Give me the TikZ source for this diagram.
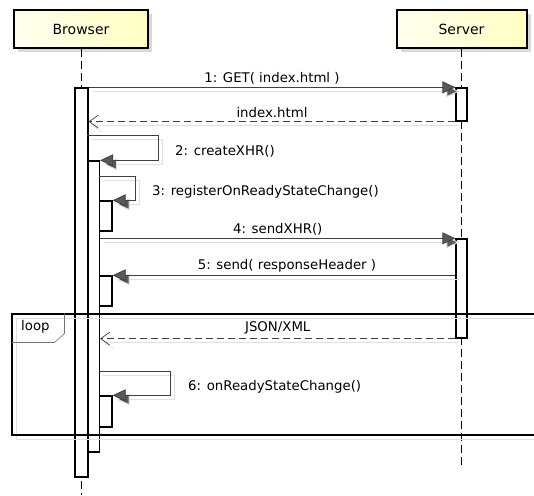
\documentclass[tikz,border=0pt]{standalone}
\usepackage{fontspec}
\setmainfont{DejaVu Sans}
\usetikzlibrary{arrows.meta,calc}

\tikzset{
  head/.style={draw=black, line width=2pt, left color=yellow!6, right color=yellow!24,
    minimum height=37pt, inner sep=0pt, font=\fontsize{14}{16}\selectfont,
    preaction={fill=black!15, transform canvas={shift={(4pt,-4pt)}}}},
  life/.style={draw=black, line width=0.9pt, dash pattern=on 8pt off 4pt},
  actbar/.style={draw=black, line width=1.3pt, fill=white, inner sep=0pt, minimum width=12pt},
  shade/.style={preaction={draw=black!12, line width=1pt, transform canvas={shift={(4pt,-4pt)}}}},
  call/.style={draw=black!75, line width=0.8pt, shade, -{Triangle[length=13pt,width=12pt,fill=black!65]}},
  reply/.style={draw=black!75, line width=0.8pt, shade, dash pattern=on 7pt off 4pt,
    -{Straight Barb[length=9pt,width=13pt,line width=0.7pt]}},
  lbl/.style={font=\fontsize{13.3}{15}\selectfont, inner sep=1pt},
}

\begin{document}
\begin{tikzpicture}[x=1pt,y=-1pt]
  \useasboundingbox (0,0) rectangle (534,495);

  % lifelines
  \node[head, minimum width=134pt] (browser) at (81,29) {Browser};
  \node[head, minimum width=130pt] (server) at (461.5,29) {Server};
  \coordinate (bend) at (81,495);
  \coordinate (send) at (461.5,465);
  \draw[life] (browser.south) -- (bend);
  \draw[life] (server.south) -- (send);

  % activations
  \node[actbar, minimum width=13pt, minimum height=389pt] (a1) at (81.5,282.5) {};
  \node[actbar, minimum width=11pt, minimum height=33pt] (s1) at (461.5,104.5) {};
  \node[actbar, minimum width=11.5pt, minimum height=291pt] (a2) at (93.75,306.5) {};
  \node[actbar, minimum width=12.5pt, minimum height=30pt] (a3) at (105.75,216) {};
  \node[actbar, minimum width=11pt, minimum height=99pt] (s2) at (461.5,288.5) {};
  \node[actbar, minimum width=12.5pt, minimum height=30pt] (a4) at (105.75,291) {};
  \node[actbar, minimum width=12.5pt, minimum height=31pt] (a5) at (105.75,411.5) {};

  % messages
  \draw[call] (a1.north east) -- node[lbl, above=2pt] {1: GET( index.html )} (s1.north west);
  \draw[reply] (s1.south west) -- node[lbl, above=3pt] {index.html} (s1.south west -| a1.east);

  \draw[call] ($(a2.north west)+(0,-25)$) -- ++(71,0) |- (a2.north east);
  \node[lbl, anchor=west] (m2) at (174,151) {2: createXHR()};

  \draw[call] ($(a3.north west)+(0,-24)$) -- ++(36.5,0) |- (a3.north east);
  \node[lbl, anchor=west] (m3) at (151,192) {3: registerOnReadyStateChange()};

  \draw[call] (a2.east |- s2.north) -- node[lbl, above=2pt] {4: sendXHR()} (s2.north west);
  \draw[call] (s2.west |- a4.north) -- node[lbl, above=2pt, xshift=3pt] {5: send( responseHeader )} (a4.north east);

  % loop fragment
  \draw[black!12, line width=1pt] (16,318) rectangle (545,439);
  \draw[line width=2pt] (12,313.5) rectangle (545,434.5);
  \draw[black!55, line width=0.6pt] (12,342.5) -- (54.5,342.5) -- (64.5,333.5) -- (64.5,313.5);
  \node[lbl, anchor=west] (loop) at (20,327) {loop};

  \draw[reply] (s2.south west) -- node[lbl, above=3pt] {JSON/XML} (s2.south west -| a2.east);

  \draw[call] ($(a5.north west)+(0,-24)$) -- ++(71.5,0) |- (a5.north east);
  \node[lbl, anchor=west] (m6) at (187,387) {6: onReadyStateChange()};
\end{tikzpicture}
\end{document}
